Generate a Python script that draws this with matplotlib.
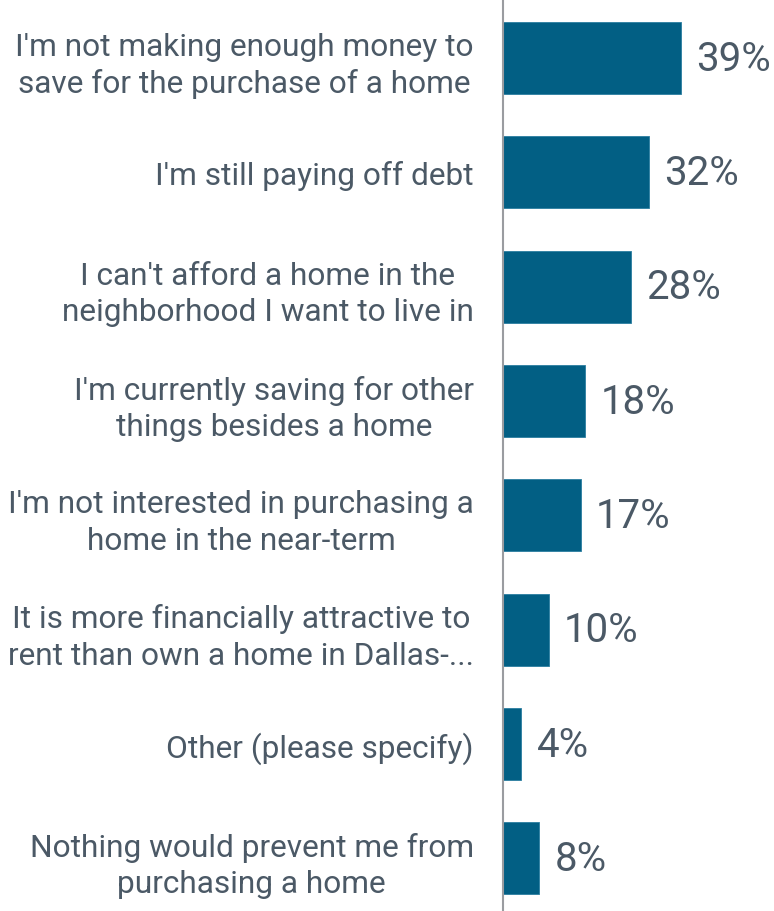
import matplotlib.pyplot as plt

# reasons for not buying a home
reasons = [
    "I'm not making enough money to\nsave for the purchase of a home",
    "I'm still paying off debt",
    "I can't afford a home in the\nneighborhood I want to live in",
    "I'm currently saving for other\nthings besides a home",
    "I'm not interested in purchasing a\nhome in the near-term",
    "It is more financially attractive to\nrent than own a home in Dallas-...",
    "Other (please specify)",
    "Nothing would prevent me from\npurchasing a home",
]
shares = [39, 32, 28, 18, 17, 10, 4, 8]

plt.rcParams['font.family'] = ['Roboto', 'DejaVu Sans']

fig = plt.figure(figsize=(7.74, 9.12), dpi=100)
ax = fig.add_axes([503 / 774, 0, 271 / 774, 1])

pos = list(range(len(reasons)))
bars = ax.barh(pos, shares, height=0.63, color='#025f84', edgecolor='#2b7ea0', linewidth=0.6)

ax.set_xlim(0, 59.4)
ax.set_ylim(7.46, -0.516)

ax.set_yticks(pos)
ax.set_yticklabels(reasons, fontsize=22.8, color='#4b5966', linespacing=1.33)
for lab in ax.get_yticklabels():
    lab.set_multialignment('center')
ax.tick_params(axis='y', length=0, pad=21)
ax.set_xticks([])

# percentage labels
ax.bar_label(bars, labels=[f"{v}%" for v in shares], padding=11, fontsize=29, color='#4b5966')

for s in ['top', 'right', 'bottom']:
    ax.spines[s].set_visible(False)
ax.spines['left'].set_color('#9a9ca0')
ax.spines['left'].set_linewidth(1.5)

fig.savefig('out.png', dpi=100)
